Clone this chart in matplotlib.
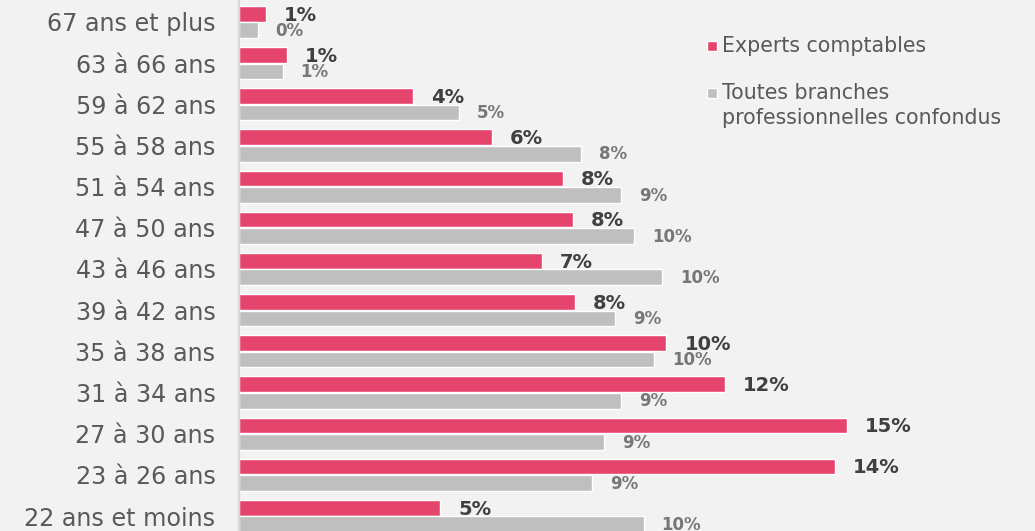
import matplotlib.pyplot as plt
from matplotlib.patches import Rectangle

categories = ["67 ans et plus", "63 à 66 ans", "59 à 62 ans", "55 à 58 ans",
              "51 à 54 ans", "47 à 50 ans", "43 à 46 ans", "39 à 42 ans",
              "35 à 38 ans", "31 à 34 ans", "27 à 30 ans", "23 à 26 ans",
              "22 ans et moins"]
experts = [0.65, 1.15, 4.2, 6.1, 7.8, 8.05, 7.3, 8.1, 10.3, 11.7, 14.65, 14.35, 4.85]
toutes = [0.45, 1.05, 5.3, 8.25, 9.2, 9.52, 10.2, 9.05, 10.0, 9.2, 8.8, 8.5, 9.75]
experts_lbl = ["1%", "1%", "4%", "6%", "8%", "8%", "7%", "8%", "10%", "12%", "15%", "14%", "5%"]
toutes_lbl = ["0%", "1%", "5%", "8%", "9%", "10%", "10%", "9%", "10%", "9%", "9%", "9%", "10%"]

pink = "#E5446D"
grey = "#BFBFBF"
bg = "#F2F2F2"

W, H = 1035, 531
fig = plt.figure(figsize=(W / 100, H / 100), dpi=100, facecolor=bg)
ax = fig.add_axes([239 / W, 0, (W - 239) / W, 1])
ax.set_facecolor(bg)

y = list(range(len(categories)))
h = 0.38
ax.barh([i - 0.2 for i in y], experts, height=h, color=pink,
        edgecolor="white", linewidth=1)
ax.barh([i + 0.2 for i in y], toutes, height=h, color=grey,
        edgecolor="white", linewidth=1)

for i in y:
    ax.annotate(experts_lbl[i], (experts[i], i - 0.2), xytext=(13, -1),
                textcoords="offset points", va="center", ha="left",
                fontsize=14, fontweight="bold", color="#404040")
    ax.annotate(toutes_lbl[i], (toutes[i], i + 0.2), xytext=(13, -0.5),
                textcoords="offset points", va="center", ha="left",
                fontsize=12, fontweight="bold", color="#777777")

ax.set_xlim(0, (W - 239) / 41.5)
ax.set_ylim(12 + 15 / 41.17, -22 / 41.17)
ax.set_yticks(y)
ax.set_yticklabels(categories, fontsize=17.2, color="#595959")
ax.tick_params(axis="y", length=0, pad=17)
ax.set_xticks([])
for s in ["top", "right", "bottom"]:
    ax.spines[s].set_visible(False)
ax.spines["left"].set_color("#D9D9D9")
ax.spines["left"].set_linewidth(1.5)

# legend
fig.add_artist(Rectangle((707 / W, 1 - 51 / H), 10 / W, 10 / H,
                         facecolor=pink, edgecolor="white", linewidth=1,
                         transform=fig.transFigure))
fig.add_artist(Rectangle((707 / W, 1 - 98 / H), 10 / W, 10 / H,
                         facecolor=grey, edgecolor="white", linewidth=1,
                         transform=fig.transFigure))
fig.text(722 / W, 1 - 46 / H, "Experts comptables", fontsize=14.8,
         color="#595959", va="center", ha="left")
fig.text(722 / W, 1 - 93 / H, "Toutes branches", fontsize=14.8,
         color="#595959", va="center", ha="left")
fig.text(722 / W, 1 - 118 / H, "professionnelles confondus", fontsize=14.8,
         color="#595959", va="center", ha="left")

fig.savefig("out.png", dpi=100, facecolor=bg)
